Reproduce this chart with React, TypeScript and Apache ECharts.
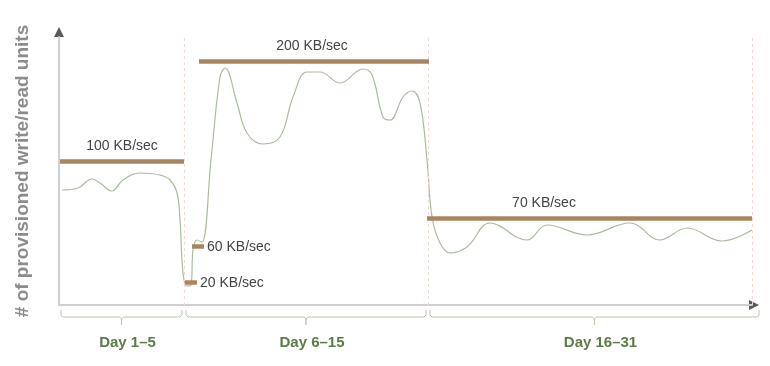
import React, { useEffect, useRef } from "react";
import * as echarts from "echarts";

// ---- data (schematic units: x = time, y = provisioned units) ----
const curveX = [3, 19, 33, 41, 53, 64, 81, 101, 111, 118, 121, 124, 128, 132, 134, 138, 143, 152, 161, 166, 178, 188, 204, 221, 234, 248, 261, 281, 304, 313, 324, 331, 344, 353, 361, 368, 373, 381, 391, 408, 431, 468, 488, 528, 571, 601, 628, 663, 693];
const curveY = [115, 117, 126, 122, 114, 125, 132, 130, 125, 112, 85, 32, 19, 20, 55, 65, 63, 145, 228, 237, 202, 172, 161, 168, 208, 233, 233, 222, 236, 230, 188, 185, 208, 214, 202, 145, 88, 62, 52, 58, 82, 65, 80, 70, 82, 65, 77, 64, 75];

const levelLabels = ["100 KB/sec", "20 KB/sec", "60 KB/sec", "200 KB/sec", "70 KB/sec"];
const levelValues = [144, 23, 59, 244, 87];
const levelStarts = [1, 126, 133, 140, 368];
const levelEnds = [125, 138, 145, 370, 693];
// where each label sits: "top" labels centred above at levelLabelX, "end" labels right of the bar
const levelLabelSide = ["top", "end", "end", "top", "top"];
const levelLabelX = [63, 0, 0, 253, 485];

const phaseBounds = [0, 125, 369, 693];
const phaseLabels = ["Day 1–5", "Day 6–15", "Day 16–31"];

const X_MAX = 693;
const Y_MAX = 268;

const FONT = "'Liberation Sans', Arial, Helvetica, sans-serif";

export default function App() {
  const ref = useRef<HTMLDivElement>(null);

  useEffect(() => {
    if (!ref.current) return;
    const chart = echarts.init(ref.current, undefined, { renderer: "svg" });

    const levelLines = levelValues.map((v, i) => [
      {
        coord: [levelStarts[i], v],
        name: levelLabels[i],
        label:
          levelLabelSide[i] === "end"
            ? { show: true, position: "end", distance: 3, formatter: levelLabels[i], color: "#444", fontSize: 14, fontFamily: FONT }
            : { show: false },
        lineStyle: { color: "#a8845f", width: 4.5, type: "solid" },
      },
      { coord: [levelEnds[i], v] },
    ]);

    const topLabels = levelValues
      .map((v, i) => ({ v, i }))
      .filter((d) => levelLabelSide[d.i] === "top")
      .map((d) => ({
        coord: [levelLabelX[d.i], d.v],
        name: levelLabels[d.i],
        label: {
          show: true,
          position: "top",
          distance: 9,
          formatter: levelLabels[d.i],
          color: "#444",
          fontSize: 14,
          fontFamily: FONT,
        },
      }));

    chart.setOption({
      animation: false,
      grid: { left: 59, right: 18, top: 37, bottom: 61 },
      xAxis: {
        type: "value",
        min: 0,
        max: X_MAX,
        axisLine: { show: true, onZero: false, lineStyle: { color: "#cfcfcf", width: 2 } },
        axisTick: { show: false },
        axisLabel: { show: false },
        splitLine: { show: false },
      },
      yAxis: {
        type: "value",
        min: 0,
        max: Y_MAX,
        name: "# of provisioned write/read units",
        nameLocation: "middle",
        nameRotate: 90,
        nameGap: 28,
        nameTextStyle: { color: "#8c8c8c", fontSize: 19, fontWeight: "bold", fontFamily: FONT },
        axisLine: { show: true, lineStyle: { color: "#cfcfcf", width: 2 } },
        axisTick: { show: false },
        axisLabel: { show: false },
        splitLine: { show: false },
      },
      series: [
        {
          type: "line",
          silent: true,
          data: [],
          markLine: {
            silent: true,
            symbol: "none",
            label: { show: false },
            lineStyle: { type: [3, 3], color: "#ecdcd3", width: 1 },
            data: phaseBounds.slice(1).map((b) => ({ xAxis: b })),
          },
        },
        {
          type: "line",
          silent: true,
          smooth: 0.4,
          showSymbol: false,
          lineStyle: { color: "#a9bd9d", width: 1.2 },
          data: curveX.map((x, i) => [x, curveY[i]]),
          markLine: {
            silent: true,
            symbol: "none",
            data: levelLines,
          },
          markPoint: {
            silent: true,
            symbol: "circle",
            symbolSize: 1,
            itemStyle: { color: "rgba(0,0,0,0)" },
            data: topLabels,
          },
        },
      ],
    });

    // decorations positioned through the axes
    const p = (x: number, y: number) => chart.convertToPixel({ gridIndex: 0 }, [x, y]) as number[];
    const origin = p(0, 0);
    const top = p(0, Y_MAX);
    const right = p(X_MAX, 0);
    const graphics: any[] = [
      {
        type: "polygon",
        shape: { points: [[top[0] - 5, top[1]], [top[0] + 5, top[1]], [top[0], top[1] - 10]] },
        style: { fill: "#5a5a5a" },
      },
      {
        type: "polygon",
        shape: { points: [[right[0] - 3, right[1] - 5], [right[0] - 3, right[1] + 5], [right[0] + 7, right[1]]] },
        style: { fill: "#5a5a5a" },
      },
    ];
    const yb = origin[1];
    for (let i = 0; i < phaseLabels.length; i++) {
      const x0 = p(phaseBounds[i], 0)[0] + 2;
      const x1 = p(phaseBounds[i + 1], 0)[0] + (i === phaseLabels.length - 1 ? 7 : -2);
      const xc = (x0 + x1) / 2;
      const yl = yb + 12;
      graphics.push({
        type: "polyline",
        shape: {
          points: [
            [x0, yb + 5], [x0, yl - 2], [x0 + 2, yl], [xc - 2, yl], [xc, yl + 2], [xc, yl + 8],
            [xc, yl + 2], [xc + 2, yl], [x1 - 2, yl], [x1, yl - 2], [x1, yb + 5],
          ],
        },
        style: { stroke: "#b9c9ad", lineWidth: 1, fill: null },
      });
      graphics.push({
        type: "text",
        x: xc + 6,
        y: yb + 36,
        style: {
          text: phaseLabels[i],
          fill: "#5b7b4b",
          font: `bold 15px ${FONT}`,
          textAlign: "center",
          textVerticalAlign: "middle",
        },
      });
    }
    chart.setOption({ graphic: graphics });

    return () => chart.dispose();
  }, []);

  return <div ref={ref} style={{ position: "fixed", left: 0, top: 0, width: 770, height: 366 }} />;
}
